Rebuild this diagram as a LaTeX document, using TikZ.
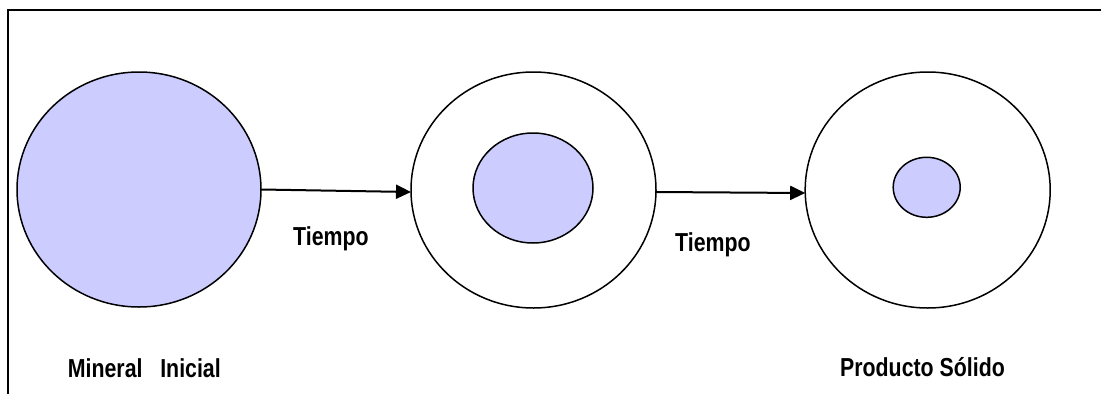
\documentclass[tikz,border=0pt]{standalone}
\usepackage{fontspec}
\setmainfont{Liberation Sans}[FakeStretch=0.82]
\usetikzlibrary{shapes.geometric,arrows.meta}
\definecolor{lavender}{HTML}{CCCCFF}
\begin{document}
\begin{tikzpicture}[x=1pt,y=-1pt,
  disc/.style={ellipse,draw,line width=1.5pt,inner sep=0pt,outer sep=0pt},
  core/.style={disc,fill=lavender},
  lbl/.style={font=\fontsize{26}{30}\selectfont\bfseries,inner sep=0pt},
  flow/.style={line width=2pt,-{Triangle[length=15pt,width=14pt]}}]
\useasboundingbox (0,0) rectangle (1101,394);
\fill[white] (0,0) rectangle (1101,394);
% frame
\draw[line width=2pt] (1101,10) -- (7.5,10) -- (7.5,394);

% particles
\node[core, minimum width=244pt, minimum height=235pt] (o1) at (139,189.5) {};
\node[disc, minimum width=245pt, minimum height=236pt] (o2) at (533.5,190) {};
\node[core, minimum width=120pt, minimum height=110pt] (i2) at (533,188) {};
\node[disc, minimum width=245pt, minimum height=236pt] (o3) at (927.7,190) {};
\node[core, minimum width=67pt, minimum height=60pt] (i3) at (926.7,187.3) {};

% arrows
\draw[flow] (o1.east) -- ([yshift=-2pt]o2.west);
\draw[flow] ([yshift=-2pt]o2.east) -- ([yshift=-3pt]o3.west);

% labels
\node[lbl, anchor=base west] (t1) at (293,245.5) {Tiempo};
\node[lbl, anchor=base west] (t2) at (675,251.5) {Tiempo};
\node[lbl, anchor=base west] (m) at (67.7,377) {Mineral\ \ \ Inicial};
\node[lbl, anchor=base east] (p) at (1005,376.7) {Producto Sólido};
\end{tikzpicture}
\end{document}
